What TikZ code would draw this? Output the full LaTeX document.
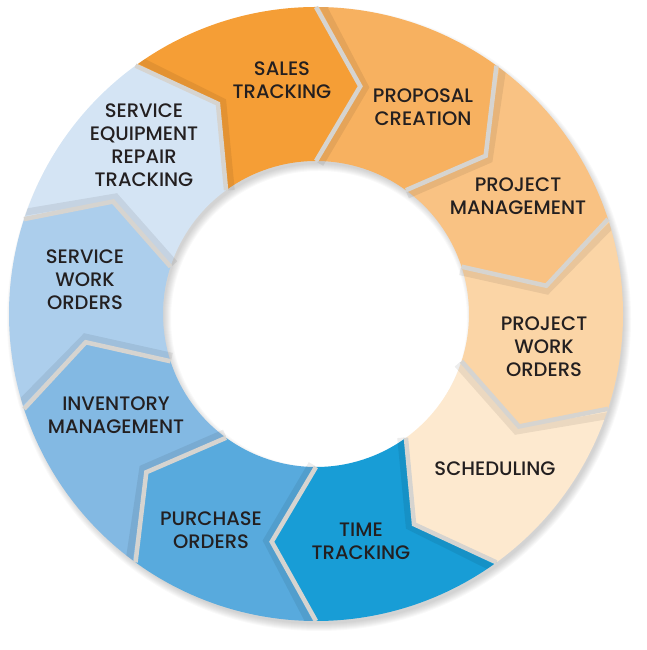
\documentclass[tikz,border=0pt]{standalone}
\usepackage{fontspec}
\setmainfont{Poppins}
\newfontfamily\labelfont{Poppins Medium}
\definecolor{csales}{RGB}{245,158,54}
\definecolor{cproposal}{RGB}{247,177,96}
\definecolor{cpm}{RGB}{249,194,131}
\definecolor{cpwo}{RGB}{251,213,166}
\definecolor{csched}{RGB}{253,233,207}
\definecolor{ctime}{RGB}{24,157,214}
\definecolor{cpurchase}{RGB}{88,170,221}
\definecolor{cinventory}{RGB}{131,185,227}
\definecolor{cswo}{RGB}{172,206,236}
\definecolor{cseqr}{RGB}{212,228,244}
\definecolor{cgap}{RGB}{214,212,208}
\definecolor{ctext}{RGB}{35,31,32}
\tikzset{
  label text/.style={align=center, text=ctext, font=\labelfont\fontsize{19.5}{23}\selectfont, inner sep=0pt},
  gapline/.style={draw=cgap, line width=4.5pt, line join=miter},
  gapshade/.style={draw=black, opacity=0.07, line width=7pt, line join=miter},
}
\begin{document}
\begin{tikzpicture}[x=1pt,y=1pt]
\useasboundingbox (0,0) rectangle (647,650);
\begin{scope}[shift={(316,336)}]
  % soft drop shadow
  \foreach \k in {0,...,7} {
    \fill[black, opacity=0.022, even odd rule] (3,-5) circle (305+\k) (3,-5) circle (155-\k);
  }
  % segments
  \foreach \a/\c in {126/csales, 90/cproposal, 54/cpm, 18/cpwo, -18/csched, -54/ctime, -90/cpurchase, -126/cinventory, -162/cswo, 162/cseqr} {
    \fill[\c] (\a:153) -- (\a-11:232) -- (\a:307)
      arc[start angle=\a, end angle=\a-36, radius=307]
      -- (\a-47:232) -- (\a-36:153)
      arc[start angle=\a-36, end angle=\a, radius=153] -- cycle;
  }
  % gaps between segments
  \begin{scope}
    \clip (0,0) circle (307) (0,0) circle (153);
    \foreach \a in {90,54,18,-18,-54,-90,-126,-162,162,126} {
      \draw[gapshade] (\a-1.6:150) -- (\a-12.3:232) -- (\a-1.1:310);
    }
  \end{scope}
  \foreach \a in {90,54,18,-18,-54,-90,-126,-162,162,126} {
    \draw[gapline] (\a:153) -- (\a-11:232) -- (\a:307);
  }
\end{scope}
\node[label text] (sales) at (282,570) {SALES\\TRACKING};
\node[label text] (proposal) at (423,543) {PROPOSAL\\CREATION};
\node[label text] (pm) at (518,454) {PROJECT\\MANAGEMENT};
\node[label text] (pwo) at (544,303) {PROJECT\\WORK\\ORDERS};
\node[label text] (sched) at (495,181) {SCHEDULING};
\node[label text] (time) at (361,109) {TIME\\TRACKING};
\node[label text] (purchase) at (211,120) {PURCHASE\\ORDERS};
\node[label text] (inventory) at (116,235) {INVENTORY\\MANAGEMENT};
\node[label text] (swo) at (85,370) {SERVICE\\WORK\\ORDERS};
\node[label text] (seqr) at (144,505) {SERVICE\\EQUIPMENT\\REPAIR\\TRACKING};
\end{tikzpicture}
\end{document}
